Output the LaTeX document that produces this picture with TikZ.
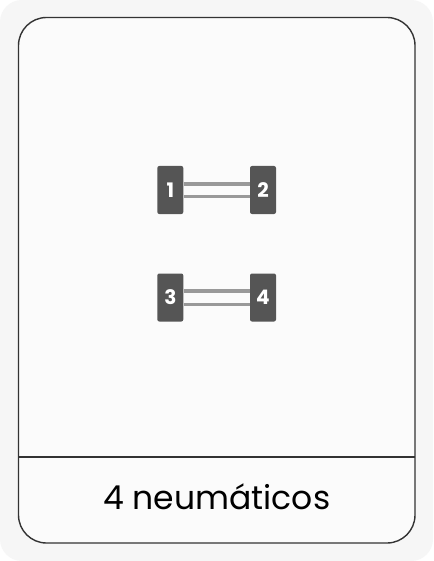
\documentclass[tikz,border=0pt]{standalone}
\usepackage{fontspec}
\setmainfont{Poppins}
\definecolor{pagebg}{HTML}{F6F6F6}
\definecolor{cardbg}{HTML}{FBFBFB}
\definecolor{frame}{HTML}{333333}
\definecolor{tire}{HTML}{555555}
\definecolor{axle}{HTML}{999999}
\begin{document}
\begin{tikzpicture}[x=1pt,y=-1pt,
  tirebox/.style={fill=tire,rounded corners=2pt,minimum width=26pt,minimum height=48pt,inner sep=0pt,
    text=white,font=\fontsize{20}{20}\selectfont\bfseries},
  axlebar/.style={draw=axle,line width=3.5pt}]
\useasboundingbox (0,0) rectangle (433,561);
\fill[white] (0,0) rectangle (433,561);
\fill[pagebg,rounded corners=22pt] (0,0) rectangle (433,561);
\draw[frame,fill=cardbg,line width=1.4pt,rounded corners=28pt] (18.5,17.5) rectangle (415,543);
\draw[frame,line width=1.2pt] (18.5,457) -- (415,457);
\node[font=\fontsize{33}{33}\selectfont,text=black] (label) at (216.7,497) {4 neumáticos};
% axle 1
\node[tirebox] (t1) at (170.3,190) {1};
\node[tirebox] (t2) at (263,190) {2};
\draw[axlebar] ([yshift=-6.5pt]t1.east) -- ([yshift=-6.5pt]t2.west);
\draw[axlebar] ([yshift=6pt]t1.east) -- ([yshift=6pt]t2.west);
% axle 2
\node[tirebox] (t3) at (170.3,297.5) {3};
\node[tirebox] (t4) at (263,297.5) {4};
\draw[axlebar] ([yshift=-6.8pt]t3.east) -- ([yshift=-6.8pt]t4.west);
\draw[axlebar] ([yshift=6.5pt]t3.east) -- ([yshift=6.5pt]t4.west);
\end{tikzpicture}
\end{document}
